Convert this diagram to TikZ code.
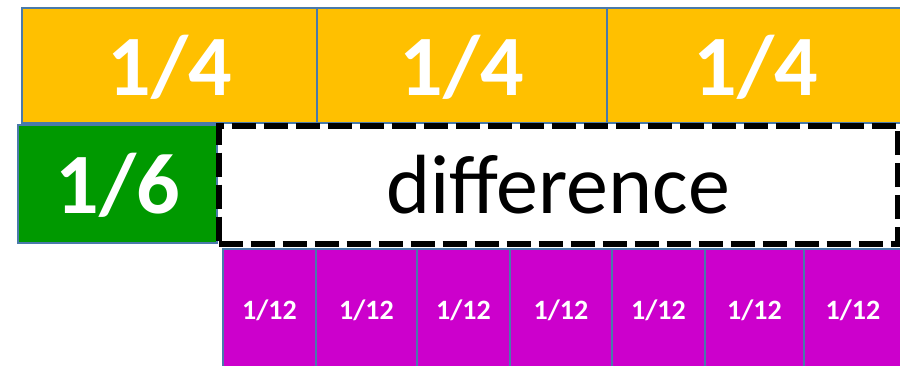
\documentclass[tikz,border=0pt]{standalone}
\usepackage{fontspec}
\setmainfont{Carlito}
\definecolor{orangefill}{HTML}{FFC000}
\definecolor{greenfill}{HTML}{009900}
\definecolor{purplefill}{HTML}{CC00CC}
\definecolor{edgeblue}{HTML}{4A7AAA}
\tikzset{
  bar/.style={draw=edgeblue, line width=2pt, inner sep=0pt, text=white, anchor=center},
  quarter/.style={bar, fill=orangefill, minimum height=115pt, text height=59pt, text depth=0pt,
     font=\bfseries\fontsize{86}{86}\selectfont},
  sixth/.style={bar, fill=greenfill, minimum width=199pt, minimum height=118pt, text height=59pt, text depth=0pt,
     font=\bfseries\fontsize{86}{86}\selectfont},
  twelfth/.style={bar, fill=purplefill, minimum height=121pt, text height=19.6pt, text depth=0pt,
     font=\bfseries\fontsize{28}{28}\selectfont},
  diffbox/.style={draw=black, line width=6pt, dash pattern=on 24pt off 8pt, inner sep=0pt,
     minimum width=679.5pt, minimum height=118pt, text=black, text height=57pt, text depth=0pt,
     font=\fontsize{84}{84}\selectfont}
}
\begin{document}
\begin{tikzpicture}[x=1pt,y=1pt]
\useasboundingbox (0,0) rectangle (900,-365);
\clip (0,0) rectangle (900,-365);
% quarters
\node[quarter, minimum width=295pt] (q1) at (169.5,-65.5) {1/4};
\node[quarter, minimum width=290pt] (q2) at (462,-65.5) {1/4};
\node[quarter, minimum width=298pt] (q3) at (756,-65.5) {1/4};
% sixth
\node[sixth] (s1) at (117.5,-184) {1/6};
% difference
\node[diffbox] (d) at (558.25,-184.5) {difference};
% twelfths
\node[twelfth, minimum width=93pt]  (t1) at (269.5,-309.5) {1/12};
\node[twelfth, minimum width=101pt] (t2) at (366.5,-309.5) {1/12};
\node[twelfth, minimum width=93pt]  (t3) at (463.5,-309.5) {1/12};
\node[twelfth, minimum width=102pt] (t4) at (561,-309.5) {1/12};
\node[twelfth, minimum width=93pt]  (t5) at (658.5,-309.5) {1/12};
\node[twelfth, minimum width=99pt]  (t6) at (754.5,-309.5) {1/12};
\node[twelfth, minimum width=98pt]  (t7) at (853,-309.5) {1/12};
\end{tikzpicture}
\end{document}
